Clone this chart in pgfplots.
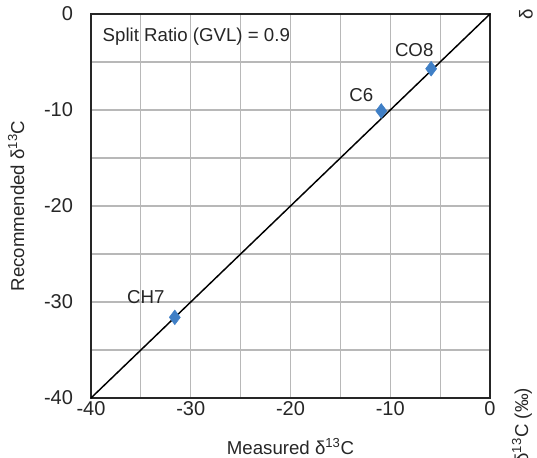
\documentclass[border=0pt]{standalone}
\usepackage{pgfplots}
\pgfplotsset{compat=1.18}
\usepackage{fontspec}
\setmainfont{Liberation Sans}
\definecolor{markblue}{HTML}{3F7FC6}
\definecolor{gridgrey}{HTML}{B8B8B8}
\definecolor{txt}{HTML}{262626}

\begin{document}
\begin{tikzpicture}[font=\fontsize{14}{16}\selectfont, text=txt]
\begin{axis}[name=ax, scale only axis, width=299.25pt, height=288pt,
 xmin=-40, xmax=0, ymin=-40, ymax=0,
 xtick={-40,-30,...,0}, ytick={-40,-30,...,0},
 minor xtick={-35,-25,...,-5}, minor ytick={-35,-25,...,-5},
 grid=both, major grid style={gridgrey, line width=0.9pt},
 minor grid style={gridgrey, line width=0.9pt},
 major tick length=0pt, minor tick length=0pt,
 axis line style={black!85, line width=1.3pt},
 /pgf/number format/assume math mode=true,
 tick label style={font=\fontsize{15}{17}\selectfont},
 yticklabel style={xshift=-10pt},
 xticklabel style={yshift=1pt},
 xlabel={Measured δ\textsuperscript{13}C},
 ylabel={Recommended δ\textsuperscript{13}C},
 xlabel style={yshift=-10pt},
 ylabel style={yshift=8pt},
 clip=false]
\addplot[black, line width=1.1pt] coordinates {(-40,-40) (0,0)};
\addplot[only marks, mark=diamond*, mark size=5.5pt, color=markblue] coordinates {
 (-5.9,-5.7) (-10.9,-10.1) (-31.6,-31.6)};
\node[anchor=west] at (axis cs:-39.3,-2.4) {Split Ratio (GVL) = 0.9};
\node at (axis cs:-7.6,-3.75) {CO8};
\node at (axis cs:-12.9,-8.4) {C6};
\node at (axis cs:-34.5,-29.5) {CH7};
\end{axis}
\node[rotate=90, anchor=east] at ([xshift=24pt, yshift=11pt]ax.south east) {δ\textsuperscript{13}C (‰)};
\node[rotate=90] at ([xshift=27pt, yshift=0pt]ax.north east) {δ};
\pgfresetboundingbox
\useasboundingbox ([xshift=-68.25pt, yshift=-45pt]ax.south west) rectangle ([xshift=35.25pt, yshift=10.5pt]ax.north east);
\end{tikzpicture}
\end{document}
